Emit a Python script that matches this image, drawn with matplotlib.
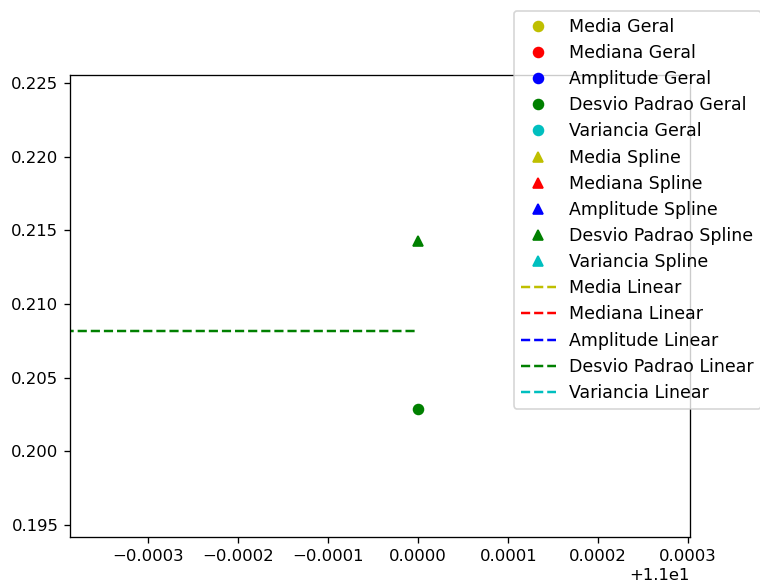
import matplotlib
matplotlib.use("Agg")
import matplotlib.pyplot as plt
import numpy as np

# Data
stats = ["Media", "Mediana", "Amplitude", "Desvio Padrao", "Variancia"]
colors = ["y", "r", "b", "g", "c"]
geral_x = {"Desvio Padrao": [11.0]}
geral_y = {"Desvio Padrao": [0.20288]}
spline_x = {"Desvio Padrao": [11.0]}
spline_y = {"Desvio Padrao": [0.21429]}
linear_x = {"Desvio Padrao": [10.9995, 11.0]}
linear_y = {"Desvio Padrao": [0.2082, 0.2082]}

DPI = 118.75
fig = plt.figure(figsize=(760 / DPI, 588 / DPI), dpi=DPI)
ax = fig.add_axes([70 / 760, 1 - 537 / 588, 620 / 760, 462 / 588])

for s, c in zip(stats, colors):
    ax.plot(geral_x.get(s, []), geral_y.get(s, []), c + "o", label=s + " Geral")
for s, c in zip(stats, colors):
    ax.plot(spline_x.get(s, []), spline_y.get(s, []), c + "^", label=s + " Spline")
for s, c in zip(stats, colors):
    ax.plot(linear_x.get(s, []), linear_y.get(s, []), c + "--", label=s + " Linear")

ax.set_xlim(10.999613, 11.000302)
ax.set_ylim(0.19418, 0.22556)

fig.legend(loc="upper left", bbox_to_anchor=(514 / 760, 1 - 11 / 588),
           bbox_transform=fig.transFigure, borderaxespad=0,
           fontsize=10.5, labelspacing=0.47)

fig.savefig("out.png", dpi=DPI)
